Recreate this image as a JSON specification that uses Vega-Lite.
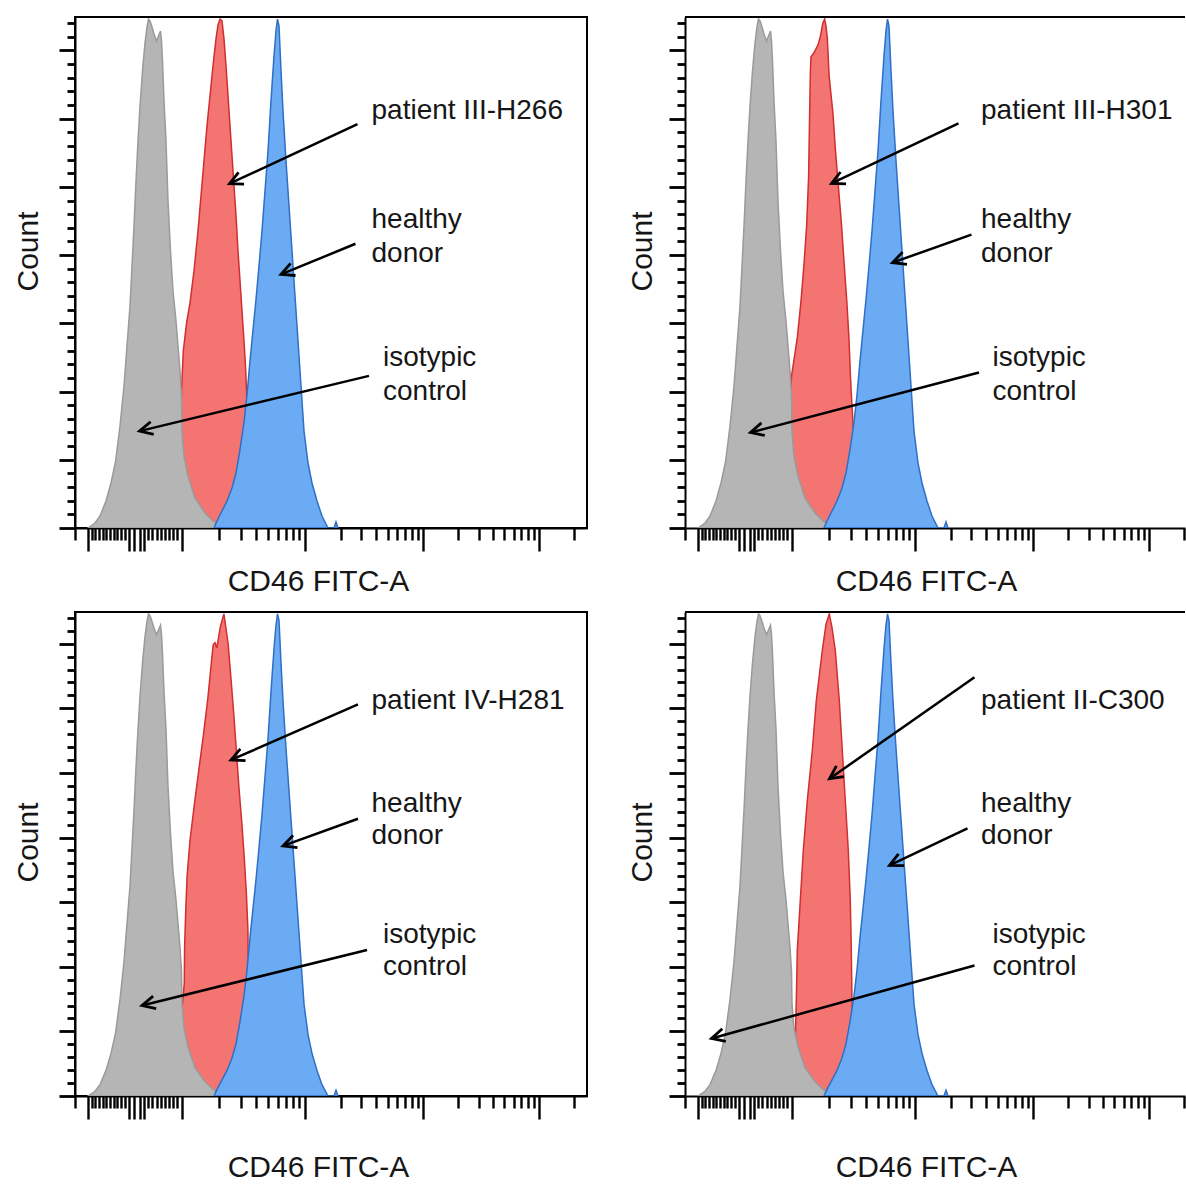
{
  "$schema": "https://vega.github.io/schema/vega-lite/v6.json",
  "padding": {"left": 12, "top": 15, "right": 0, "bottom": 0},
  "autosize": {"type": "pad"},
  "config": {
    "view": {"stroke": "black", "strokeWidth": 2},
    "axis": {"grid": false, "labels": false, "domain": true, "domainColor": "black", "domainWidth": 2, "tickColor": "black", "titleFont": "Liberation Sans", "titleFontSize": 30, "titleFontWeight": "normal", "titleColor": "#161616", "zindex": 1},
    "concat": {"spacing": 38}
  },
  "datasets": {
    "gray": [
      {"ch":26,"n":0},{"ch":40,"n":7.3},{"ch":50,"n":17.6},{"ch":62,"n":39.6},{"ch":72,"n":66},{"ch":81,"n":96.7},{"ch":90,"n":149.5},{"ch":98,"n":208.2},{"ch":104,"n":266.8},{"ch":110,"n":325.4},{"ch":114,"n":384.1},{"ch":118,"n":442.7},{"ch":122,"n":508.7},{"ch":126,"n":567.3},{"ch":130,"n":618.6},{"ch":135,"n":669.9},{"ch":140,"n":710.9},{"ch":144,"n":734.4},{"ch":147,"n":746},{"ch":150,"n":743.2},{"ch":154,"n":734.4},{"ch":158,"n":724.1},{"ch":163,"n":713.9},{"ch":167,"n":721.2},{"ch":171,"n":728.5},{"ch":173,"n":713.9},{"ch":175,"n":684.6},{"ch":178,"n":625.9},{"ch":182,"n":567.3},{"ch":186,"n":479.3},{"ch":191,"n":406},{"ch":196,"n":347.4},{"ch":202,"n":303.4},{"ch":206,"n":266.8},{"ch":210,"n":230.1},{"ch":213,"n":193.5},{"ch":214,"n":142.2},{"ch":218,"n":105.5},{"ch":226,"n":76.2},{"ch":240,"n":44},{"ch":260,"n":22},{"ch":274,"n":11.7},{"ch":294,"n":0}
    ],
    "blue": [
      {"ch":278,"n":0},{"ch":284,"n":10.3},{"ch":294,"n":24.9},{"ch":304,"n":39.6},{"ch":314,"n":58.7},{"ch":322,"n":80.6},{"ch":330,"n":115},{"ch":338,"n":155},{"ch":344,"n":195},{"ch":350,"n":245},{"ch":356,"n":290},{"ch":362,"n":335},{"ch":368,"n":384.2},{"ch":374,"n":435.5},{"ch":380,"n":494.1},{"ch":386,"n":552.8},{"ch":392,"n":626.1},{"ch":398,"n":692.1},{"ch":402,"n":728.7},{"ch":405,"n":746},{"ch":408,"n":736.1},{"ch":412,"n":670.1},{"ch":416,"n":611.4},{"ch":422,"n":538.1},{"ch":428,"n":472.1},{"ch":434,"n":406.2},{"ch":440,"n":340.2},{"ch":446,"n":274.2},{"ch":452,"n":208.2},{"ch":458,"n":142.2},{"ch":466,"n":95.3},{"ch":474,"n":66},{"ch":484,"n":39.6},{"ch":494,"n":17.6},{"ch":506,"n":0},{"ch":518,"n":0},{"ch":522,"n":8.8},{"ch":526,"n":0}
    ],
    "red": [
      {"p":"TL","ch":196,"n":0},{"p":"TL","ch":204,"n":60},{"p":"TL","ch":210,"n":115},{"p":"TL","ch":213,"n":200.9},{"p":"TL","ch":216.6,"n":259.5},{"p":"TL","ch":223,"n":300},{"p":"TL","ch":230,"n":330},{"p":"TL","ch":238,"n":376.8},{"p":"TL","ch":246,"n":435.5},{"p":"TL","ch":252,"n":486.8},{"p":"TL","ch":258,"n":538.1},{"p":"TL","ch":264,"n":589.4},{"p":"TL","ch":270,"n":633.4},{"p":"TL","ch":276,"n":677.4},{"p":"TL","ch":282,"n":717},{"p":"TL","ch":286,"n":737.5},{"p":"TL","ch":290,"n":746},{"p":"TL","ch":294,"n":743.4},{"p":"TL","ch":298,"n":717},{"p":"TL","ch":302,"n":677.4},{"p":"TL","ch":306,"n":633.4},{"p":"TL","ch":310,"n":589.4},{"p":"TL","ch":314,"n":545.5},{"p":"TL","ch":318,"n":501.5},{"p":"TL","ch":322,"n":457.5},{"p":"TL","ch":326,"n":406.2},{"p":"TL","ch":330,"n":362.2},{"p":"TL","ch":334,"n":318.2},{"p":"TL","ch":338,"n":274.2},{"p":"TL","ch":341,"n":237.5},{"p":"TL","ch":343,"n":200.9},{"p":"TL","ch":346,"n":142.2},{"p":"TL","ch":350,"n":68.9},{"p":"TL","ch":354,"n":0},
      {"p":"TR","ch":194,"n":0},{"p":"TR","ch":200,"n":39.6},{"p":"TR","ch":205,"n":98.2},{"p":"TR","ch":208,"n":170.1},{"p":"TR","ch":213.4,"n":224.3},{"p":"TR","ch":224.8,"n":280.1},{"p":"TR","ch":232.2,"n":334.3},{"p":"TR","ch":238.2,"n":388.6},{"p":"TR","ch":243.4,"n":444.3},{"p":"TR","ch":247.2,"n":514.7},{"p":"TR","ch":249,"n":596.8},{"p":"TR","ch":250.8,"n":670.1},{"p":"TR","ch":252,"n":690.6},{"p":"TR","ch":258,"n":696.5},{"p":"TR","ch":266,"n":708.2},{"p":"TR","ch":271,"n":721.4},{"p":"TR","ch":275.6,"n":740},{"p":"TR","ch":279.2,"n":746},{"p":"TR","ch":282,"n":736.1},{"p":"TR","ch":284.6,"n":718.5},{"p":"TR","ch":288.2,"n":662.8},{"p":"TR","ch":295.8,"n":608.5},{"p":"TR","ch":301,"n":552.8},{"p":"TR","ch":307,"n":498.5},{"p":"TR","ch":313,"n":444.3},{"p":"TR","ch":318.2,"n":388.6},{"p":"TR","ch":323.4,"n":334.3},{"p":"TR","ch":327.8,"n":280.1},{"p":"TR","ch":330.8,"n":224.3},{"p":"TR","ch":333,"n":192.1},{"p":"TR","ch":338,"n":127.6},{"p":"TR","ch":344,"n":54.3},{"p":"TR","ch":350,"n":0},
      {"p":"BL","ch":200,"n":0},{"p":"BL","ch":206,"n":55.6},{"p":"BL","ch":212,"n":117.4},{"p":"BL","ch":218.6,"n":174.7},{"p":"BL","ch":219.2,"n":230},{"p":"BL","ch":221.4,"n":285.1},{"p":"BL","ch":224.2,"n":340.2},{"p":"BL","ch":230,"n":395.4},{"p":"BL","ch":238.6,"n":450.5},{"p":"BL","ch":247.8,"n":505.6},{"p":"BL","ch":257.2,"n":560.8},{"p":"BL","ch":265.8,"n":616.1},{"p":"BL","ch":272.8,"n":671.2},{"p":"BL","ch":276.4,"n":698.7},{"p":"BL","ch":280,"n":701.5},{"p":"BL","ch":283.6,"n":693.4},{"p":"BL","ch":290.8,"n":726.3},{"p":"BL","ch":297.8,"n":746},{"p":"BL","ch":301.4,"n":726.3},{"p":"BL","ch":306.4,"n":698.7},{"p":"BL","ch":312.2,"n":643.6},{"p":"BL","ch":317.8,"n":588.4},{"p":"BL","ch":322.8,"n":533.3},{"p":"BL","ch":327.8,"n":478.1},{"p":"BL","ch":333.6,"n":423},{"p":"BL","ch":338.6,"n":367.7},{"p":"BL","ch":342.8,"n":312.6},{"p":"BL","ch":345.8,"n":257.5},{"p":"BL","ch":346.4,"n":202.3},{"p":"BL","ch":348,"n":132.8},{"p":"BL","ch":352,"n":71},{"p":"BL","ch":356,"n":0},
      {"p":"BR","ch":200,"n":0},{"p":"BR","ch":210,"n":40},{"p":"BR","ch":220.6,"n":85.9},{"p":"BR","ch":222.6,"n":147.8},{"p":"BR","ch":224.6,"n":225.1},{"p":"BR","ch":230.6,"n":302.5},{"p":"BR","ch":236.6,"n":379.9},{"p":"BR","ch":244.6,"n":457.3},{"p":"BR","ch":254.6,"n":534.7},{"p":"BR","ch":262.6,"n":612},{"p":"BR","ch":274.6,"n":689.4},{"p":"BR","ch":282,"n":730},{"p":"BR","ch":288.6,"n":746},{"p":"BR","ch":294,"n":725},{"p":"BR","ch":300.6,"n":689.4},{"p":"BR","ch":308.6,"n":612},{"p":"BR","ch":314.6,"n":534.7},{"p":"BR","ch":320.6,"n":457.3},{"p":"BR","ch":326.6,"n":379.9},{"p":"BR","ch":330.6,"n":302.5},{"p":"BR","ch":332.6,"n":225.1},{"p":"BR","ch":334,"n":147.8},{"p":"BR","ch":338,"n":80},{"p":"BR","ch":344,"n":30},{"p":"BR","ch":350,"n":0}
    ],
    "arrows": [
      {"p":"TL","ch":565,"n":592,"ch2":309,"n2":504.6},{"p":"TL","ch":561,"n":416.6,"ch2":412,"n2":371.7},{"p":"TL","ch":588,"n":223,"ch2":129,"n2":142},
      {"p":"TR","ch":547,"n":593,"ch2":293,"n2":505},{"p":"TR","ch":573,"n":430,"ch2":415,"n2":389},{"p":"TR","ch":588,"n":228,"ch2":131,"n2":140},
      {"p":"BL","ch":566,"n":606,"ch2":312,"n2":520},{"p":"BL","ch":566,"n":429,"ch2":416,"n2":387},{"p":"BL","ch":584,"n":226,"ch2":134,"n2":140},
      {"p":"BR","ch":579,"n":648,"ch2":289,"n2":491},{"p":"BR","ch":565,"n":414,"ch2":409,"n2":357},{"p":"BR","ch":579,"n":202,"ch2":53,"n2":89}
    ],
    "labels": [
      {"p":"TL","ch":593,"n":611,"label":"patient III-H266"},{"p":"TL","ch":593,"n":452,"label":"healthy"},{"p":"TL","ch":593,"n":402,"label":"donor"},{"p":"TL","ch":616,"n":249,"label":"isotypic"},{"p":"TL","ch":616,"n":199,"label":"control"},
      {"p":"TR","ch":592,"n":611,"label":"patient III-H301"},{"p":"TR","ch":592,"n":452,"label":"healthy"},{"p":"TR","ch":592,"n":402,"label":"donor"},{"p":"TR","ch":615,"n":249,"label":"isotypic"},{"p":"TR","ch":615,"n":199,"label":"control"},
      {"p":"BL","ch":593,"n":611,"label":"patient IV-H281"},{"p":"BL","ch":593,"n":452,"label":"healthy"},{"p":"BL","ch":593,"n":402,"label":"donor"},{"p":"BL","ch":616,"n":249,"label":"isotypic"},{"p":"BL","ch":616,"n":199,"label":"control"},
      {"p":"BR","ch":592,"n":611,"label":"patient II-C300"},{"p":"BR","ch":592,"n":452,"label":"healthy"},{"p":"BR","ch":592,"n":402,"label":"donor"},{"p":"BR","ch":615,"n":249,"label":"isotypic"},{"p":"BR","ch":615,"n":199,"label":"control"}
    ]
  },
  "vconcat": [
    {
      "hconcat": [
        {
          "width": 512, "height": 511,
          "layer": [
            {"data": {"name": "red"}, "transform": [{"filter": "datum.p === 'TL'"}],
             "mark": {"type": "area", "fill": "#f47472", "stroke": "#cf2f2f", "strokeWidth": 1.5, "fillOpacity": 1, "clip": true},
             "encoding": {
               "x": {"field": "ch", "type": "quantitative", "scale": {"domain": [0, 1024], "nice": false, "zero": false},
                     "axis": {"values": [0,26.6,33,40.4,47.8,55.2,62.6,70,77.4,84.8,92.2,99.6,108,118.6,130,138.6,146.6,154.8,163,171.2,179.4,187.6,195.8,204,213.4,287.6,331.1,361.9,385.8,405.3,421.8,436.1,448.7,460,531.2,572.9,602.4,625.4,644.1,660,673.8,685.8,696.6,766.4,807.3,836.3,858.8,877.1,892.7,906.3,918,928.6,998.4], "tickCount": 500,
                              "title": "CD46 FITC-A", "titleX": 243, "titleY": 62, "titleBaseline": "alphabetic", "titleAlign": "center", "tickWidth": 2.4,
                              "tickSize": {"condition": {"test": "indexof([26.6,108,118.6,130,138.6,213.4,460,696.6,928.6], datum.value) >= 0", "value": 23}, "value": 12}}},
               "y": {"field": "n", "type": "quantitative", "scale": {"domain": [0, 749], "nice": false},
                     "axis": {"values": [0,20,40,60,80,100,120,140,160,180,200,220,240,260,280,300,320,340,360,380,400,420,440,460,480,500,520,540,560,580,600,620,640,660,680,700,720,740], "tickCount": 500,
                              "title": "Count", "titleX": -38, "titleY": 234, "titleAngle": 270, "titleBaseline": "alphabetic", "titleAlign": "center", "tickWidth": 2.8,
                              "tickSize": {"condition": {"test": "datum.value % 100 === 0", "value": 16}, "value": 8}}}
             }},
            {"data": {"name": "gray"}, "mark": {"type": "area", "fill": "#b5b5b5", "stroke": "#9a9a9a", "strokeWidth": 1.5, "fillOpacity": 1, "clip": true},
             "encoding": {"x": {"field": "ch", "type": "quantitative"}, "y": {"field": "n", "type": "quantitative"}}},
            {"data": {"name": "blue"}, "mark": {"type": "area", "fill": "#6aabf3", "stroke": "#2f6fc6", "strokeWidth": 1.5, "fillOpacity": 1, "clip": true},
             "encoding": {"x": {"field": "ch", "type": "quantitative"}, "y": {"field": "n", "type": "quantitative"}}},
            {"data": {"values": [{}]}, "mark": {"type": "rule", "color": "black", "strokeWidth": 2}, "encoding": {"y": {"datum": 749}}},
            {"data": {"name": "arrows"}, "transform": [{"filter": "datum.p === 'TL'"}], "mark": {"type": "rule", "color": "black", "strokeWidth": 2.5},
             "encoding": {"x": {"field": "ch", "type": "quantitative"}, "y": {"field": "n", "type": "quantitative"}, "x2": {"field": "ch2"}, "y2": {"field": "n2"}}},
            {"data": {"name": "arrows"}, "transform": [{"filter": "datum.p === 'TL'"}, {"calculate": "atan2(-(datum.n2-datum.n)*0.6822,(datum.ch2-datum.ch)*0.5)*180/PI", "as": "ang"}],
             "mark": {"type": "point", "shape": "M-2,-1L0,0L-2,1", "filled": false, "stroke": "black", "strokeWidth": 2.8, "size": 170, "opacity": 1},
             "encoding": {"x": {"field": "ch2", "type": "quantitative"}, "y": {"field": "n2", "type": "quantitative"}, "angle": {"field": "ang", "type": "quantitative", "scale": null}}},
            {"data": {"name": "labels"}, "transform": [{"filter": "datum.p === 'TL'"}], "mark": {"type": "text", "align": "left", "baseline": "middle", "font": "Liberation Sans", "fontSize": 28, "color": "#161616"},
             "encoding": {"x": {"field": "ch", "type": "quantitative"}, "y": {"field": "n", "type": "quantitative"}, "text": {"field": "label"}}}
          ]
        },
        {
          "width": 500, "height": 511, "view": {"stroke": null},
          "layer": [
            {"data": {"name": "red"}, "transform": [{"filter": "datum.p === 'TR'"}],
             "mark": {"type": "area", "fill": "#f47472", "stroke": "#cf2f2f", "strokeWidth": 1.5, "fillOpacity": 1, "clip": true},
             "encoding": {
               "x": {"field": "ch", "type": "quantitative", "scale": {"domain": [0, 1000], "nice": false, "zero": false},
                     "axis": {"values": [0,26.6,33,40.4,47.8,55.2,62.6,70,77.4,84.8,92.2,99.6,108,118.6,130,138.6,146.6,154.8,163,171.2,179.4,187.6,195.8,204,213.4,287.6,331.1,361.9,385.8,405.3,421.8,436.1,448.7,460,531.2,572.9,602.4,625.4,644.1,660,673.8,685.8,696.6,766.4,807.3,836.3,858.8,877.1,892.7,906.3,918,928.6,998.4], "tickCount": 500,
                              "title": "CD46 FITC-A", "titleX": 241, "titleY": 62, "titleBaseline": "alphabetic", "titleAlign": "center", "tickWidth": 2.4,
                              "tickSize": {"condition": {"test": "indexof([26.6,108,118.6,130,138.6,213.4,460,696.6,928.6], datum.value) >= 0", "value": 23}, "value": 12}}},
               "y": {"field": "n", "type": "quantitative", "scale": {"domain": [0, 749], "nice": false},
                     "axis": {"values": [0,20,40,60,80,100,120,140,160,180,200,220,240,260,280,300,320,340,360,380,400,420,440,460,480,500,520,540,560,580,600,620,640,660,680,700,720,740], "tickCount": 500,
                              "title": "Count", "titleX": -34, "titleY": 234, "titleAngle": 270, "titleBaseline": "alphabetic", "titleAlign": "center", "tickWidth": 2.8,
                              "tickSize": {"condition": {"test": "datum.value % 100 === 0", "value": 16}, "value": 8}}}
             }},
            {"data": {"name": "gray"}, "mark": {"type": "area", "fill": "#b5b5b5", "stroke": "#9a9a9a", "strokeWidth": 1.5, "fillOpacity": 1, "clip": true},
             "encoding": {"x": {"field": "ch", "type": "quantitative"}, "y": {"field": "n", "type": "quantitative"}}},
            {"data": {"name": "blue"}, "mark": {"type": "area", "fill": "#6aabf3", "stroke": "#2f6fc6", "strokeWidth": 1.5, "fillOpacity": 1, "clip": true},
             "encoding": {"x": {"field": "ch", "type": "quantitative"}, "y": {"field": "n", "type": "quantitative"}}},
            {"data": {"values": [{}]}, "mark": {"type": "rule", "color": "black", "strokeWidth": 2}, "encoding": {"y": {"datum": 749}}},
            {"data": {"name": "arrows"}, "transform": [{"filter": "datum.p === 'TR'"}], "mark": {"type": "rule", "color": "black", "strokeWidth": 2.5},
             "encoding": {"x": {"field": "ch", "type": "quantitative"}, "y": {"field": "n", "type": "quantitative"}, "x2": {"field": "ch2"}, "y2": {"field": "n2"}}},
            {"data": {"name": "arrows"}, "transform": [{"filter": "datum.p === 'TR'"}, {"calculate": "atan2(-(datum.n2-datum.n)*0.6822,(datum.ch2-datum.ch)*0.5)*180/PI", "as": "ang"}],
             "mark": {"type": "point", "shape": "M-2,-1L0,0L-2,1", "filled": false, "stroke": "black", "strokeWidth": 2.8, "size": 170, "opacity": 1},
             "encoding": {"x": {"field": "ch2", "type": "quantitative"}, "y": {"field": "n2", "type": "quantitative"}, "angle": {"field": "ang", "type": "quantitative", "scale": null}}},
            {"data": {"name": "labels"}, "transform": [{"filter": "datum.p === 'TR'"}], "mark": {"type": "text", "align": "left", "baseline": "middle", "font": "Liberation Sans", "fontSize": 28, "color": "#161616"},
             "encoding": {"x": {"field": "ch", "type": "quantitative"}, "y": {"field": "n", "type": "quantitative"}, "text": {"field": "label"}}}
          ]
        }
      ]
    },
    {
      "hconcat": [
        {
          "width": 512, "height": 484,
          "layer": [
            {"data": {"name": "red"}, "transform": [{"filter": "datum.p === 'BL'"}],
             "mark": {"type": "area", "fill": "#f47472", "stroke": "#cf2f2f", "strokeWidth": 1.5, "fillOpacity": 1, "clip": true},
             "encoding": {
               "x": {"field": "ch", "type": "quantitative", "scale": {"domain": [0, 1024], "nice": false, "zero": false},
                     "axis": {"values": [0,26.6,33,40.4,47.8,55.2,62.6,70,77.4,84.8,92.2,99.6,108,118.6,130,138.6,146.6,154.8,163,171.2,179.4,187.6,195.8,204,213.4,287.6,331.1,361.9,385.8,405.3,421.8,436.1,448.7,460,531.2,572.9,602.4,625.4,644.1,660,673.8,685.8,696.6,766.4,807.3,836.3,858.8,877.1,892.7,906.3,918,928.6,998.4], "tickCount": 500,
                              "title": "CD46 FITC-A", "titleX": 243, "titleY": 80, "titleBaseline": "alphabetic", "titleAlign": "center", "tickWidth": 2.4,
                              "tickSize": {"condition": {"test": "indexof([26.6,108,118.6,130,138.6,213.4,460,696.6,928.6], datum.value) >= 0", "value": 23}, "value": 12}}},
               "y": {"field": "n", "type": "quantitative", "scale": {"domain": [0, 749], "nice": false},
                     "axis": {"values": [0,20,40,60,80,100,120,140,160,180,200,220,240,260,280,300,320,340,360,380,400,420,440,460,480,500,520,540,560,580,600,620,640,660,680,700,720,740], "tickCount": 500,
                              "title": "Count", "titleX": -38, "titleY": 230, "titleAngle": 270, "titleBaseline": "alphabetic", "titleAlign": "center", "tickWidth": 2.8,
                              "tickSize": {"condition": {"test": "datum.value % 100 === 0", "value": 16}, "value": 8}}}
             }},
            {"data": {"name": "gray"}, "mark": {"type": "area", "fill": "#b5b5b5", "stroke": "#9a9a9a", "strokeWidth": 1.5, "fillOpacity": 1, "clip": true},
             "encoding": {"x": {"field": "ch", "type": "quantitative"}, "y": {"field": "n", "type": "quantitative"}}},
            {"data": {"name": "blue"}, "mark": {"type": "area", "fill": "#6aabf3", "stroke": "#2f6fc6", "strokeWidth": 1.5, "fillOpacity": 1, "clip": true},
             "encoding": {"x": {"field": "ch", "type": "quantitative"}, "y": {"field": "n", "type": "quantitative"}}},
            {"data": {"values": [{}]}, "mark": {"type": "rule", "color": "black", "strokeWidth": 2}, "encoding": {"y": {"datum": 749}}},
            {"data": {"name": "arrows"}, "transform": [{"filter": "datum.p === 'BL'"}], "mark": {"type": "rule", "color": "black", "strokeWidth": 2.5},
             "encoding": {"x": {"field": "ch", "type": "quantitative"}, "y": {"field": "n", "type": "quantitative"}, "x2": {"field": "ch2"}, "y2": {"field": "n2"}}},
            {"data": {"name": "arrows"}, "transform": [{"filter": "datum.p === 'BL'"}, {"calculate": "atan2(-(datum.n2-datum.n)*0.6462,(datum.ch2-datum.ch)*0.5)*180/PI", "as": "ang"}],
             "mark": {"type": "point", "shape": "M-2,-1L0,0L-2,1", "filled": false, "stroke": "black", "strokeWidth": 2.8, "size": 170, "opacity": 1},
             "encoding": {"x": {"field": "ch2", "type": "quantitative"}, "y": {"field": "n2", "type": "quantitative"}, "angle": {"field": "ang", "type": "quantitative", "scale": null}}},
            {"data": {"name": "labels"}, "transform": [{"filter": "datum.p === 'BL'"}], "mark": {"type": "text", "align": "left", "baseline": "middle", "font": "Liberation Sans", "fontSize": 28, "color": "#161616"},
             "encoding": {"x": {"field": "ch", "type": "quantitative"}, "y": {"field": "n", "type": "quantitative"}, "text": {"field": "label"}}}
          ]
        },
        {
          "width": 500, "height": 484, "view": {"stroke": null},
          "layer": [
            {"data": {"name": "red"}, "transform": [{"filter": "datum.p === 'BR'"}],
             "mark": {"type": "area", "fill": "#f47472", "stroke": "#cf2f2f", "strokeWidth": 1.5, "fillOpacity": 1, "clip": true},
             "encoding": {
               "x": {"field": "ch", "type": "quantitative", "scale": {"domain": [0, 1000], "nice": false, "zero": false},
                     "axis": {"values": [0,26.6,33,40.4,47.8,55.2,62.6,70,77.4,84.8,92.2,99.6,108,118.6,130,138.6,146.6,154.8,163,171.2,179.4,187.6,195.8,204,213.4,287.6,331.1,361.9,385.8,405.3,421.8,436.1,448.7,460,531.2,572.9,602.4,625.4,644.1,660,673.8,685.8,696.6,766.4,807.3,836.3,858.8,877.1,892.7,906.3,918,928.6,998.4], "tickCount": 500,
                              "title": "CD46 FITC-A", "titleX": 241, "titleY": 80, "titleBaseline": "alphabetic", "titleAlign": "center", "tickWidth": 2.4,
                              "tickSize": {"condition": {"test": "indexof([26.6,108,118.6,130,138.6,213.4,460,696.6,928.6], datum.value) >= 0", "value": 23}, "value": 12}}},
               "y": {"field": "n", "type": "quantitative", "scale": {"domain": [0, 749], "nice": false},
                     "axis": {"values": [0,20,40,60,80,100,120,140,160,180,200,220,240,260,280,300,320,340,360,380,400,420,440,460,480,500,520,540,560,580,600,620,640,660,680,700,720,740], "tickCount": 500,
                              "title": "Count", "titleX": -34, "titleY": 230, "titleAngle": 270, "titleBaseline": "alphabetic", "titleAlign": "center", "tickWidth": 2.8,
                              "tickSize": {"condition": {"test": "datum.value % 100 === 0", "value": 16}, "value": 8}}}
             }},
            {"data": {"name": "gray"}, "mark": {"type": "area", "fill": "#b5b5b5", "stroke": "#9a9a9a", "strokeWidth": 1.5, "fillOpacity": 1, "clip": true},
             "encoding": {"x": {"field": "ch", "type": "quantitative"}, "y": {"field": "n", "type": "quantitative"}}},
            {"data": {"name": "blue"}, "mark": {"type": "area", "fill": "#6aabf3", "stroke": "#2f6fc6", "strokeWidth": 1.5, "fillOpacity": 1, "clip": true},
             "encoding": {"x": {"field": "ch", "type": "quantitative"}, "y": {"field": "n", "type": "quantitative"}}},
            {"data": {"values": [{}]}, "mark": {"type": "rule", "color": "black", "strokeWidth": 2}, "encoding": {"y": {"datum": 749}}},
            {"data": {"name": "arrows"}, "transform": [{"filter": "datum.p === 'BR'"}], "mark": {"type": "rule", "color": "black", "strokeWidth": 2.5},
             "encoding": {"x": {"field": "ch", "type": "quantitative"}, "y": {"field": "n", "type": "quantitative"}, "x2": {"field": "ch2"}, "y2": {"field": "n2"}}},
            {"data": {"name": "arrows"}, "transform": [{"filter": "datum.p === 'BR'"}, {"calculate": "atan2(-(datum.n2-datum.n)*0.6462,(datum.ch2-datum.ch)*0.5)*180/PI", "as": "ang"}],
             "mark": {"type": "point", "shape": "M-2,-1L0,0L-2,1", "filled": false, "stroke": "black", "strokeWidth": 2.8, "size": 170, "opacity": 1},
             "encoding": {"x": {"field": "ch2", "type": "quantitative"}, "y": {"field": "n2", "type": "quantitative"}, "angle": {"field": "ang", "type": "quantitative", "scale": null}}},
            {"data": {"name": "labels"}, "transform": [{"filter": "datum.p === 'BR'"}], "mark": {"type": "text", "align": "left", "baseline": "middle", "font": "Liberation Sans", "fontSize": 28, "color": "#161616"},
             "encoding": {"x": {"field": "ch", "type": "quantitative"}, "y": {"field": "n", "type": "quantitative"}, "text": {"field": "label"}}}
          ]
        }
      ]
    }
  ],
  "spacing": 13
}
